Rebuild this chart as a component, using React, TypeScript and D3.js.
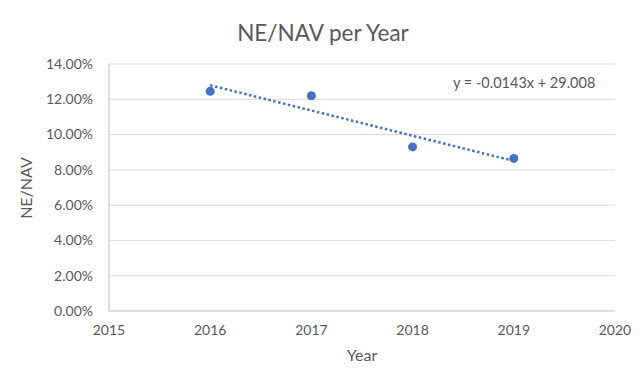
import React from "react";
import * as d3 from "d3";

const years = [2016, 2017, 2018, 2019];
const neNav = [0.1245, 0.122, 0.093, 0.0865];
const yTicks = [0, 0.02, 0.04, 0.06, 0.08, 0.1, 0.12, 0.14];
const xTicks = [2015, 2016, 2017, 2018, 2019, 2020];
const equationText = "y = -0.0143x + 29.008";

export default function App() {
  const W = 640, H = 369;
  const left = 109, right = 615, top = 64, bottom = 311;
  const x = d3.scaleLinear().domain([2015, 2020]).range([left, right]);
  const y = d3.scaleLinear().domain([0, 0.14]).range([bottom, top]);

  const mx = d3.mean(years)!;
  const my = d3.mean(neNav)!;
  const slope =
    d3.sum(years.map((v, i) => (v - mx) * (neNav[i] - my))) /
    d3.sum(years.map((v) => (v - mx) ** 2));
  const intercept = my - slope * mx;
  const x0 = years[0], x1 = years[years.length - 1];
  const trend = d3.line<number>()
    .x((d) => x(d))
    .y((d) => y(slope * d + intercept))([x0, x1]);

  const font = "Lato, 'Open Sans', sans-serif";
  const textColor = "#595959";

  return (
    <svg width={W} height={H} style={{ position: "absolute", left: 0, top: 0, background: "#fff" }} fontFamily={font}>
      <rect x={0} y={0} width={W} height={H} fill="#fff" />
      <text x={323} y={41} textAnchor="middle" fontSize={22.5} fill={textColor}>NE/NAV per Year</text>
      {yTicks.map((t) => (
        <g key={t}>
          {t > 0 && <line x1={left} x2={right} y1={y(t)} y2={y(t)} stroke="#d9d9d9" strokeWidth={1} />}
          <text x={93} y={y(t)} dy="0.35em" textAnchor="end" fontSize={14} fill={textColor}>
            {d3.format(".2%")(t)}
          </text>
        </g>
      ))}
      <line x1={left} x2={right} y1={bottom} y2={bottom} stroke="#bfbfbf" strokeWidth={1} />
      <line x1={left} x2={left} y1={top} y2={bottom} stroke="#bfbfbf" strokeWidth={1} />
      {xTicks.map((t) => (
        <text key={t} x={x(t)} y={bottom + 24} textAnchor="middle" fontSize={14} fill={textColor}>{t}</text>
      ))}
      <text x={(left + right) / 2} y={361} textAnchor="middle" fontSize={16} fill={textColor}>Year</text>
      <text transform={`translate(26,188) rotate(-90)`} textAnchor="middle" dy="0.35em" fontSize={16} fill={textColor}>NE/NAV</text>
      <path d={trend!} fill="none" stroke="#4472C4" strokeWidth={2.5} strokeDasharray="2.5 2.5" />
      {years.map((yr, i) => (
        <circle key={yr} cx={x(yr)} cy={y(neNav[i])} r={4.5} fill="#4472C4" />
      ))}
      <text x={453} y={83} dy="0.35em" fontSize={14.5} fill={textColor}>{equationText}</text>
    </svg>
  );
}
